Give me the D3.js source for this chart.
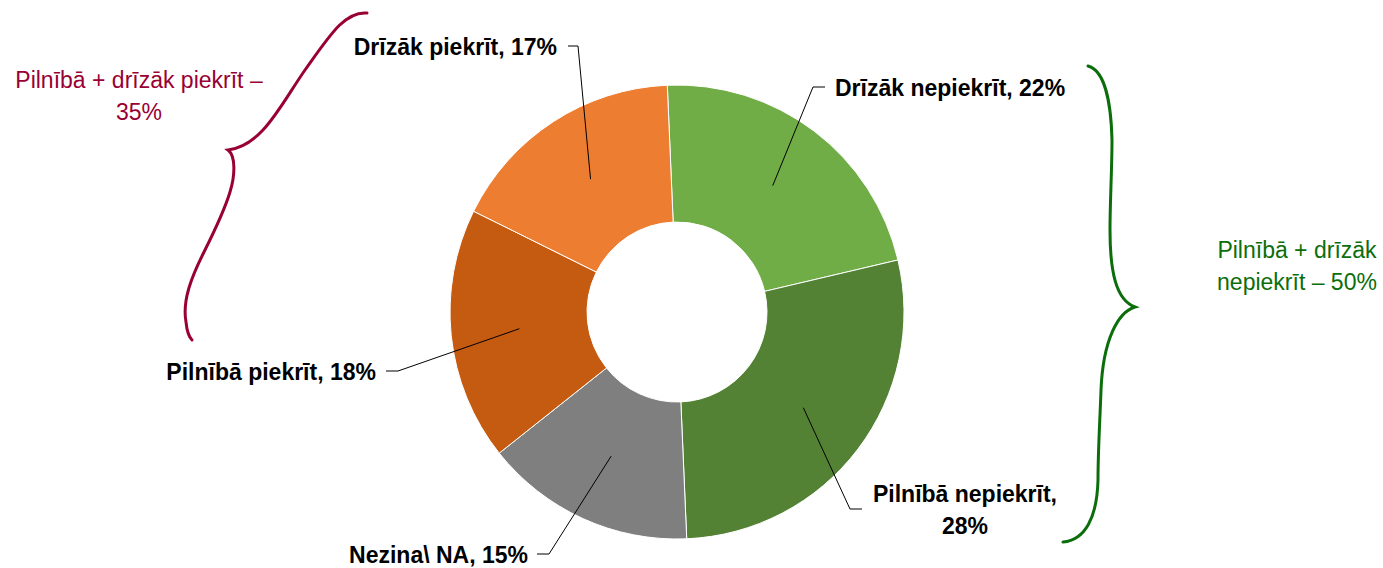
<!DOCTYPE html>
<html><head><meta charset="utf-8">
<script src="https://cdn.jsdelivr.net/npm/d3@7"></script>
<style>
html,body{margin:0;padding:0;background:#fff;}
svg{display:block;}
</style></head>
<body>
<svg id="chart" width="1383" height="568"></svg>
<script>
// ---- data ----
const categories = ["Drīzāk nepiekrīt", "Pilnībā nepiekrīt", "Nezina\\ NA", "Pilnībā piekrīt", "Drīzāk piekrīt"];
const values = [22, 28, 15, 18, 17];
const colors = ["#70AD47", "#548235", "#7F7F7F", "#C55A11", "#ED7D31"];
const groupLabels = [["Pilnībā + drīzāk piekrīt –", "35%"], ["Pilnībā + drīzāk", "nepiekrīt – 50%"]];

// ---- layout ----
const W = 1383, H = 568;
const cx = 677, cy = 312, R = 227, r0 = 90;
const startAngle = -2.45 * Math.PI / 180;
// label layout: elbow, line end, text anchor, lines
const labelLayout = [
  {elbow:[813,87], end:[825,87], tx:835, ty:96, anchor:"start", lines:[0]},
  {elbow:[850,509], end:[862,509], tx:965, ty:502, anchor:"middle", lines:[0,1]},
  {elbow:[549,554], end:[537,554], tx:528, ty:563, anchor:"end", lines:[0]},
  {elbow:[398,371], end:[386,371], tx:376, ty:380, anchor:"end", lines:[0]},
  {elbow:[578,46], end:[568,46], tx:557, ty:55, anchor:"end", lines:[0]}
];

const svg = d3.select("#chart");
const g = svg.append("g").attr("transform", `translate(${cx},${cy})`);

const pie = d3.pie().sort(null).value(d => d)
  .startAngle(startAngle).endAngle(startAngle + 2 * Math.PI);
const arcs = pie(values);
const arc = d3.arc().innerRadius(r0).outerRadius(R);
const midArc = d3.arc().innerRadius((R + r0) / 2).outerRadius((R + r0) / 2);

g.selectAll("path.slice").data(arcs).enter().append("path")
  .attr("class", "slice")
  .attr("d", arc)
  .attr("fill", (d, i) => colors[i])
  .attr("stroke", "#fff").attr("stroke-width", 1);

// leader lines + labels
const font = "'Liberation Sans', Arial, sans-serif";
arcs.forEach((d, i) => {
  const L = labelLayout[i];
  const c = midArc.centroid(d);
  const p0 = [cx + c[0], cy + c[1]];
  svg.append("polyline")
    .attr("points", [p0, L.elbow, L.end].map(p => p.join(",")).join(" "))
    .attr("fill", "none").attr("stroke", "#000").attr("stroke-width", 1);
  const text = `${categories[i]}, ${values[i]}%`;
  const t = svg.append("text")
    .attr("x", L.tx).attr("y", L.ty)
    .attr("text-anchor", L.anchor)
    .attr("font-family", font).attr("font-weight", "bold")
    .attr("font-size", 23).attr("fill", "#000");
  if (L.lines.length === 1) {
    t.text(text);
  } else {
    t.append("tspan").attr("x", L.tx).attr("y", L.ty).text(`${categories[i]},`);
    t.append("tspan").attr("x", L.tx).attr("y", L.ty + 32).text(`${values[i]}%`);
  }
});

// braces
const crimson = "#990033", green = "#0B6E0B";
svg.append("path")
  .attr("d", "M367,13 C345,11 330,35 305,70 C280,106 262,146 228,150 C236,156 235,176 230,192 C224,212 214,232 204,252 C192,276 182,300 186,322 C187,332 189,337 192,340")
  .attr("fill", "none").attr("stroke", crimson).attr("stroke-width", 3).attr("stroke-linecap", "round");
svg.append("path")
  .attr("d", "M1088,66 C1104,70 1111,100 1112,140 C1112,170 1110,200 1110,230 C1110,272 1116,300 1135,307 C1118,312 1103,340 1101,390 C1100,420 1098,450 1098,480 C1097,518 1085,540 1063,542")
  .attr("fill", "none").attr("stroke", green).attr("stroke-width", 3).attr("stroke-linecap", "round");

// group labels
const gl = [
  {x:139, y:88, color:crimson},
  {x:1297, y:258, color:green}
];
groupLabels.forEach((lines, k) => {
  const t = svg.append("text").attr("text-anchor", "middle")
    .attr("font-family", font).attr("font-size", 23).attr("fill", gl[k].color);
  lines.forEach((s, j) => t.append("tspan").attr("x", gl[k].x).attr("y", gl[k].y + j * 32).text(s));
});
</script>
</body></html>
